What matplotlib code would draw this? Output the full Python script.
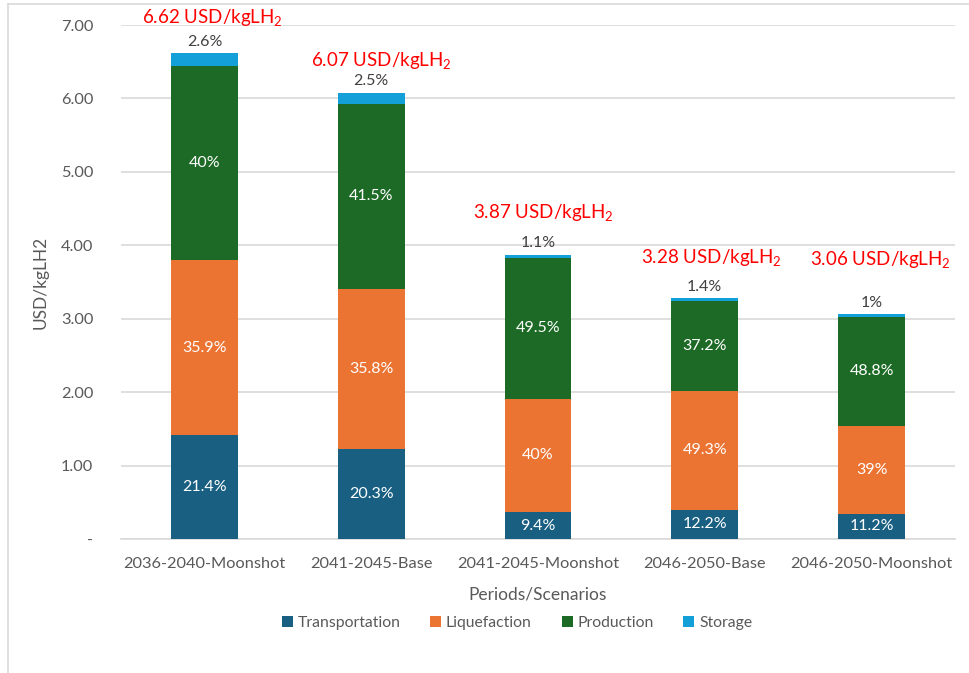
import matplotlib
matplotlib.use("Agg")
import matplotlib.pyplot as plt
from matplotlib.lines import Line2D
from matplotlib.patches import Patch

plt.rcParams['font.family'] = ['Lato', 'DejaVu Sans']
plt.rcParams['mathtext.fontset'] = 'custom'
plt.rcParams['mathtext.rm'] = 'Lato'
plt.rcParams['mathtext.it'] = 'Lato'

categories = ["2036-2040-Moonshot", "2041-2045-Base", "2041-2045-Moonshot",
              "2046-2050-Base", "2046-2050-Moonshot"]
series_names = ["Transportation", "Liquefaction", "Production", "Storage"]
transportation = [1.417, 1.232, 0.364, 0.400, 0.343]
liquefaction = [2.377, 2.173, 1.548, 1.617, 1.193]
production = [2.648, 2.519, 1.916, 1.220, 1.493]
storage = [0.172, 0.152, 0.043, 0.046, 0.031]
totals = [6.62, 6.07, 3.87, 3.28, 3.06]
transportation_labels = ["21.4%", "20.3%", "9.4%", "12.2%", "11.2%"]
liquefaction_labels = ["35.9%", "35.8%", "40%", "49.3%", "39%"]
production_labels = ["40%", "41.5%", "49.5%", "37.2%", "48.8%"]
storage_labels = ["2.6%", "2.5%", "1.1%", "1.4%", "1%"]
yticks = [0, 1, 2, 3, 4, 5, 6, 7]
ytick_labels = ["-", "1.00", "2.00", "3.00", "4.00", "5.00", "6.00", "7.00"]

colors = ["#185F82", "#EB7433", "#1C6A25", "#139FD8"]
text_gray = "#595959"

fig = plt.figure(figsize=(9.69, 6.73), dpi=100)
# outer chart frame
fig.add_artist(Line2D([8/969, 8/969], [0, 1 - 4/673], transform=fig.transFigure,
                      color="#D9D9D9", lw=1.2))
fig.add_artist(Line2D([8/969, 1], [1 - 4/673, 1 - 4/673], transform=fig.transFigure,
                      color="#D9D9D9", lw=1.2))

ax = fig.add_axes([121/969, 1 - 539/673, (955 - 121)/969, (539 - 25)/673])

x = list(range(len(categories)))
width = 0.40
series = [transportation, liquefaction, production, storage]
labels = [transportation_labels, liquefaction_labels, production_labels, storage_labels]
bottoms = [0.0] * len(categories)
for s, (vals, col, name, labs) in enumerate(zip(series, colors, series_names, labels)):
    bars = ax.bar(x, vals, width, bottom=bottoms, color=col, label=name, zorder=3)
    for i, b in enumerate(bars):
        if s < 3:
            ax.text(b.get_x() + b.get_width() / 2, bottoms[i] + vals[i] / 2, labs[i],
                    ha="center", va="center", color="white", fontsize=11.5, zorder=4)
        else:
            ax.text(b.get_x() + b.get_width() / 2, bottoms[i] + vals[i] + 0.06, labs[i],
                    ha="center", va="bottom", color="#404040", fontsize=11.5, zorder=4)
    bottoms = [bt + v for bt, v in zip(bottoms, vals)]

# total labels (manually placed in original)
total_pos = [(0.05, 7.10), (0.06, 6.52), (0.03, 4.45), (0.04, 3.83), (0.05, 3.80)]
for i, t in enumerate(totals):
    dx, yy = total_pos[i]
    ax.text(i + dx, yy, f"{t:.2f} USD/kgLH$_2$", ha="center", va="center",
            color="#FF0000", fontsize=13.5, zorder=5)

ax.set_xlim(-0.5, len(categories) - 0.5)
ax.set_ylim(0, 7)
ax.set_yticks(yticks)
ax.set_yticklabels(ytick_labels)
ax.set_xticks(x)
ax.set_xticklabels(categories)
ax.tick_params(axis="both", length=0, colors=text_gray, labelsize=11.8)
ax.tick_params(axis="y", pad=20)
ax.tick_params(axis="x", pad=13)
ax.grid(axis="y", color="#D9D9D9", lw=1.2, zorder=0)
for sp in ["top", "right", "left"]:
    ax.spines[sp].set_visible(False)
ax.spines["bottom"].set_color("#D9D9D9")
ax.spines["bottom"].set_linewidth(1.2)

ax.set_ylabel("USD/kgLH2", color=text_gray, fontsize=12.5, labelpad=9)
ax.set_xlabel("Periods/Scenarios", color=text_gray, fontsize=12.5, labelpad=11)

handles = [Patch(facecolor=c, label=n) for c, n in zip(colors, series_names)]
fig.legend(handles=handles, loc="center", bbox_to_anchor=(517/969, 1 - 623/673),
           ncol=4, frameon=False, fontsize=11.3, labelcolor=text_gray,
           handlelength=0.7, handleheight=0.7, handletextpad=0.3, columnspacing=1.9)

fig.savefig("out.png", dpi=100, facecolor="white")
